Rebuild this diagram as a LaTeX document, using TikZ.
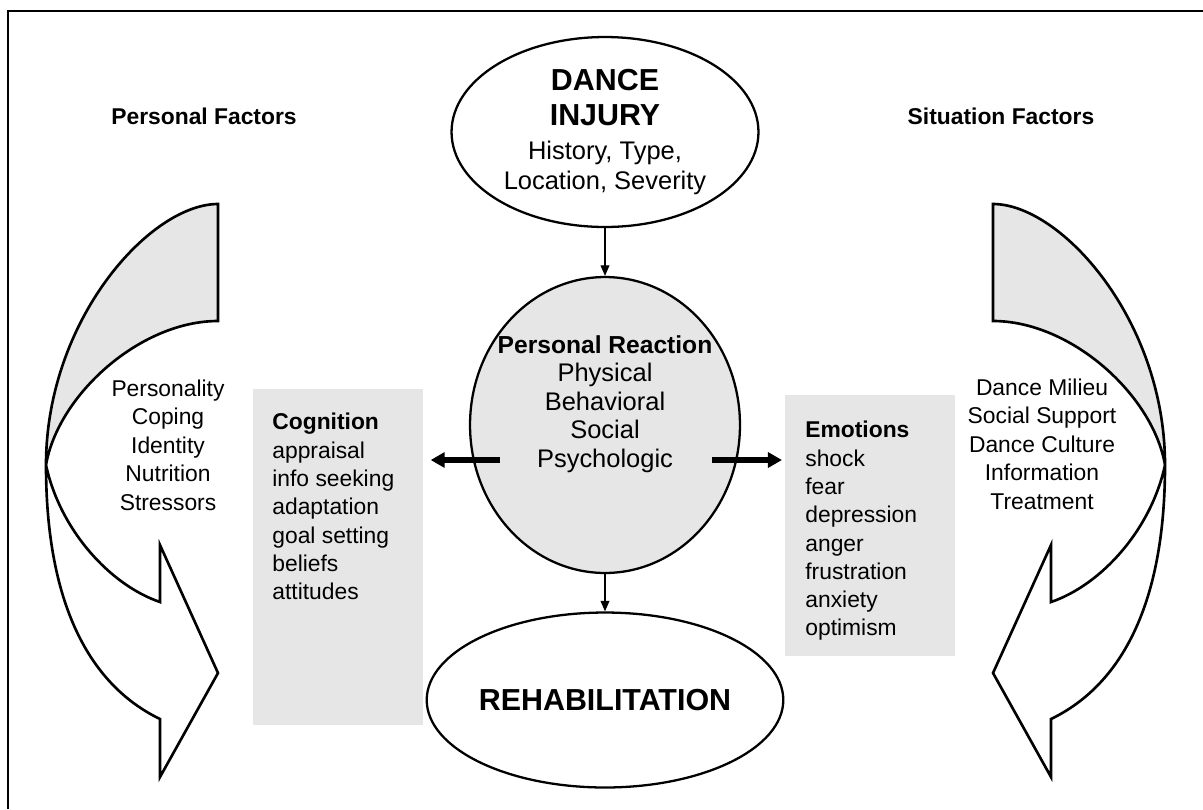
\documentclass[tikz,border=0pt]{standalone}
\usepackage{fontspec}
\setmainfont{Liberation Sans}
\usetikzlibrary{arrows.meta,positioning,shapes.geometric}
\definecolor{boxgray}{HTML}{E6E6E6}

\tikzset{
  ribbon/.pic={
    % grey back of the band
    \filldraw[rib,fill=boxgray] (218,204) .. controls (150,204) and (46,320) .. (46,465)
      .. controls (58,395) and (140,321) .. (218,321) -- cycle;
    % white front with the head
    \draw[rib] (46,465) .. controls (46,620) and (100,690) .. (160,719) -- (160,777)
      -- (218,673) -- (160,545) -- (160,602) .. controls (110,585) and (60,530) .. (46,465);
  }
}

\begin{document}
\begin{tikzpicture}[x=0.02cm,y=-0.02cm,
  rib/.style={line width=1.5pt,line join=miter},
  oval/.style={ellipse,draw,line width=1.3pt,inner sep=0pt,align=center},
  greybox/.style={fill=boxgray,inner sep=0pt,anchor=north west},
  lst/.style={align=left,anchor=north west,inner sep=0pt,font=\fontsize{13}{16.1}\selectfont},
  side/.style={align=center,inner sep=0pt,font=\fontsize{13}{16.2}\selectfont},
  head/.style={font=\fontsize{13}{15}\selectfont\bfseries,inner sep=0pt},
  big/.style={font=\fontsize{17.3}{19}\selectfont\bfseries},
  thinarr/.style={line width=0.7pt,-{Triangle[length=6pt,width=5pt]}},
  fatarr/.style={line width=3.3pt,-{Triangle[length=8pt,width=8.5pt]}}]
  \useasboundingbox (0,0) rectangle (1203,809);

  % frame (top and left only)
  \draw[line width=1pt] (8,809) -- (8,11) -- (1203,11);

  \node[head] (personal) at (204,116) {Personal Factors};
  \node[head] (situation) at (1001,116) {Situation Factors};

  \pic at (0,0) {ribbon};
  \pic[xscale=-1] at (1211,0) {ribbon};

  \node[side] (perslist) at (168,445) {Personality\\Coping\\Identity\\Nutrition\\Stressors};
  \node[side] (sitlist) at (1042,444) {Dance Milieu\\Social Support\\Dance Culture\\Information\\Treatment};

  \node[oval,minimum width=6.14cm,minimum height=3.8cm,
        font=\fontsize{14.5}{17}\selectfont] (injury) at (605,132)
    {{\fontsize{17.3}{19}\selectfont\bfseries DANCE}\\[2.8pt]
     {\fontsize{17.3}{19}\selectfont\bfseries INJURY}\\[2.3pt]
     History, Type,\\
     Location, Severity};
  \node[oval,fill=boxgray,minimum width=5.4cm,minimum height=5.92cm] (reaction) at (605,425) {};
  \node[align=center,inner sep=0pt,font=\fontsize{14.5}{16.2}\selectfont] (reactiontxt) at (605,404)
    {{\fontsize{14}{16}\selectfont\bfseries Personal Reaction}\\Physical\\Behavioral\\Social\\Psychologic};
  \node[oval,big,minimum width=6.14cm,minimum height=3.5cm] (rehab) at (605,700) {REHABILITATION};

  \node[greybox,minimum width=3.4cm,minimum height=6.72cm] (cognition) at (253,389) {};
  \node[lst] (coglist) at (272,413)
    {\textbf{Cognition}\\appraisal\\info seeking\\adaptation\\goal setting\\beliefs\\attitudes};
  \node[greybox,minimum width=3.4cm,minimum height=5.22cm] (emotions) at (785,395) {};
  \node[lst] (emolist) at (805,421)
    {\textbf{Emotions}\\shock\\fear\\depression\\anger\\frustration\\anxiety\\optimism};

  \draw[thinarr] (injury.south) -- (reaction.north);
  \draw[thinarr] (reaction.south) -- (rehab.north);

  \coordinate (cogtail) at (500,460);
  \coordinate (emotail) at (712,460);
  \draw[fatarr,shorten >=0.14cm] (cogtail) -- (cogtail -| cognition.east);
  \draw[fatarr,shorten >=0.06cm] (emotail) -- (emotail -| emotions.west);
\end{tikzpicture}
\end{document}
